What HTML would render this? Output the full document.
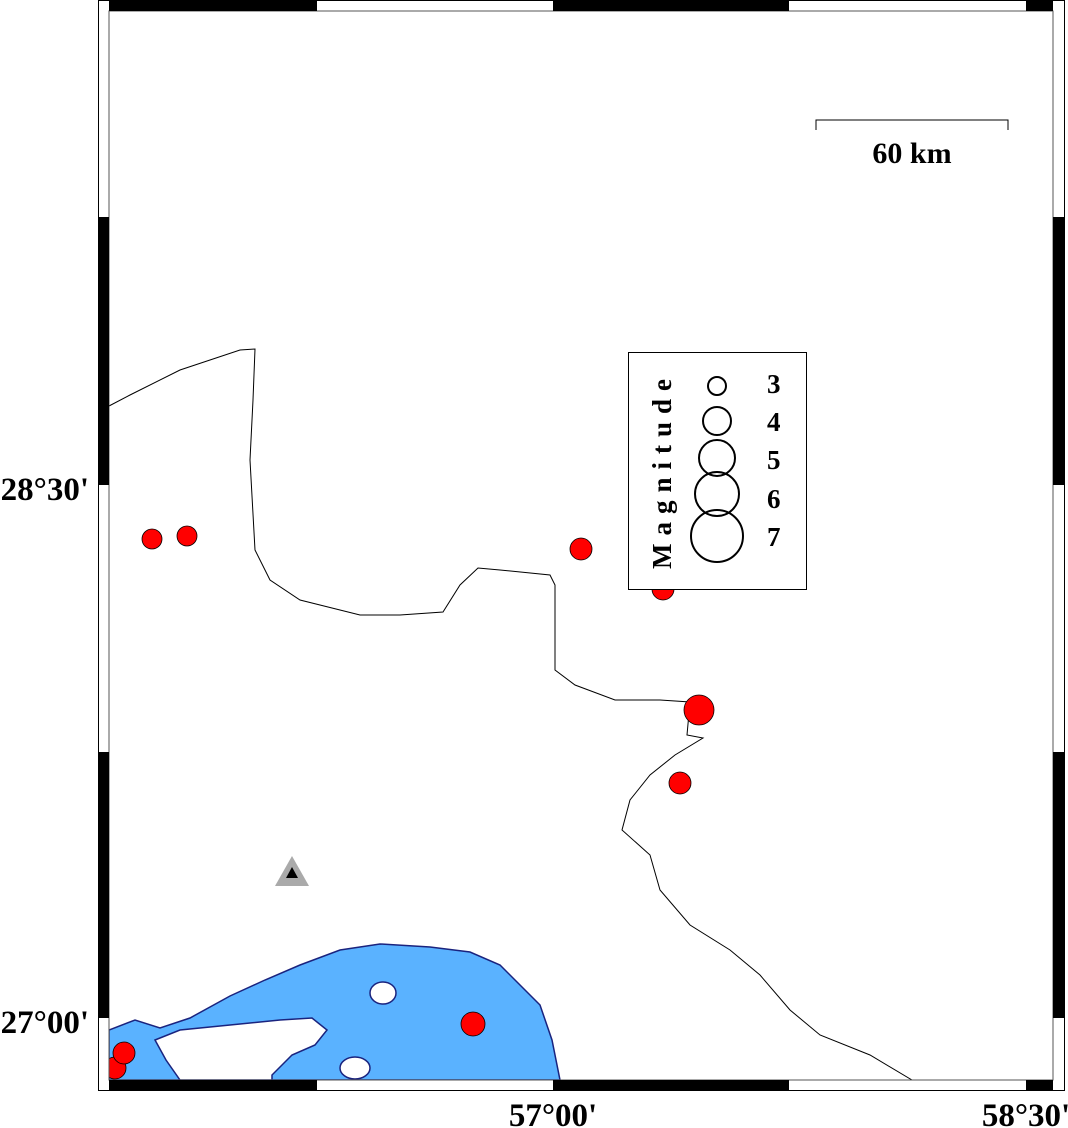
<!DOCTYPE html>
<html><head><meta charset="utf-8"><style>
html,body{margin:0;padding:0;background:#fff;}
svg{display:block;}
text{font-family:"Liberation Serif",serif;font-weight:bold;}
</style></head><body>
<svg width="1068" height="1128" viewBox="0 0 1068 1128" xmlns="http://www.w3.org/2000/svg">
<defs><clipPath id="c"><rect x="109" y="11" width="944" height="1069"/></clipPath></defs>
<rect width="1068" height="1128" fill="#fff"/>
<g clip-path="url(#c)">
<path d="M109,1030 L135,1020 L160,1028 L190,1018 L230,996 L265,980 L300,965 L340,950 L380,944 L430,947 L470,952 L500,965 L520,985 L540,1005 L552,1040 L560,1080 L109,1080 Z" fill="#5ab2ff" stroke="#1a237e" stroke-width="1.5"/>
<path d="M155,1040 L180,1030 L230,1025 L280,1020 L312,1018 L327,1030 L315,1045 L292,1055 L272,1075 L272,1080 L180,1080 L166,1060 Z" fill="#fff" stroke="#1a237e" stroke-width="1.5"/>
<ellipse cx="383" cy="993" rx="13" ry="11" fill="#fff" stroke="#1a237e" stroke-width="1.5"/>
<ellipse cx="355" cy="1068" rx="15" ry="11" fill="#fff" stroke="#1a237e" stroke-width="1.5"/>
<path d="M109,406 L130,395 L180,370 L240,350 L255,349 L253,400 L250,460 L255,550 L270,580 L300,600 L360,615 L400,615 L443,612 L460,585 L478,568 L500,570 L550,575 L555,585 L555,670 L575,685 L615,700 L660,700 L690,702 L687,735 L703,738 L675,755 L650,775 L630,800 L622,830 L650,855 L660,890 L690,925 L730,950 L760,975 L790,1010 L820,1035 L870,1055 L912,1080" fill="none" stroke="#000" stroke-width="1"/>
<g fill="#f00" stroke="#000" stroke-width="0.8">
<circle cx="152" cy="539" r="10"/><circle cx="187" cy="536" r="10"/>
<circle cx="581" cy="549" r="11"/><circle cx="663" cy="589" r="11"/>
<circle cx="699" cy="710" r="15"/><circle cx="680" cy="783" r="11"/>
<circle cx="473" cy="1024" r="12"/><circle cx="115" cy="1068" r="11"/><circle cx="124" cy="1053" r="11"/>
</g>
<polygon points="292,856 275,886 309,886" fill="#aaa"/>
<polygon points="292,867 286,878 298,878" fill="#000"/>
</g>
<rect x="98.5" y="0.5" width="966" height="1090" fill="none" stroke="#000" stroke-width="1"/>
<rect x="109" y="11" width="944" height="1069" fill="none" stroke="#555" stroke-width="1"/>
<g fill="#000">
<rect x="109" y="1" width="208" height="10"/><rect x="553" y="1" width="236" height="10"/><rect x="1026" y="1" width="27" height="10"/>
<rect x="109" y="1080" width="208" height="10"/><rect x="553" y="1080" width="236" height="10"/><rect x="1026" y="1080" width="27" height="10"/>
<rect x="99" y="217" width="10" height="268"/><rect x="99" y="752" width="10" height="266"/>
<rect x="1053" y="217" width="11" height="268"/><rect x="1053" y="752" width="11" height="266"/>
</g>
<path d="M816,130 L816,120 L1008,120 L1008,130" fill="none" stroke="#000" stroke-width="1"/>
<text x="912" y="163" font-size="30" text-anchor="middle">60 km</text>
<rect x="628.5" y="352.5" width="178" height="237" fill="#fff" stroke="#000" stroke-width="1"/>
<text transform="translate(671,470) rotate(-90)" font-size="27" text-anchor="middle" letter-spacing="8">Magnitude</text>
<g fill="none" stroke="#000" stroke-width="2">
<circle cx="717" cy="386" r="9"/><circle cx="717" cy="421" r="14"/><circle cx="717" cy="458" r="18"/><circle cx="717" cy="494" r="22"/><circle cx="717" cy="536" r="26"/>
</g>
<g font-size="27">
<text x="767" y="393">3</text><text x="767" y="431">4</text><text x="767" y="469">5</text><text x="767" y="508">6</text><text x="767" y="546">7</text>
</g>
<g font-size="33">
<text x="89" y="500" text-anchor="end">28°30'</text>
<text x="89" y="1033" text-anchor="end">27°00'</text>
<text x="553" y="1126" text-anchor="middle">57°00'</text>
<text x="1026" y="1126" text-anchor="middle">58°30'</text>
</g>
</svg>
</body></html>
